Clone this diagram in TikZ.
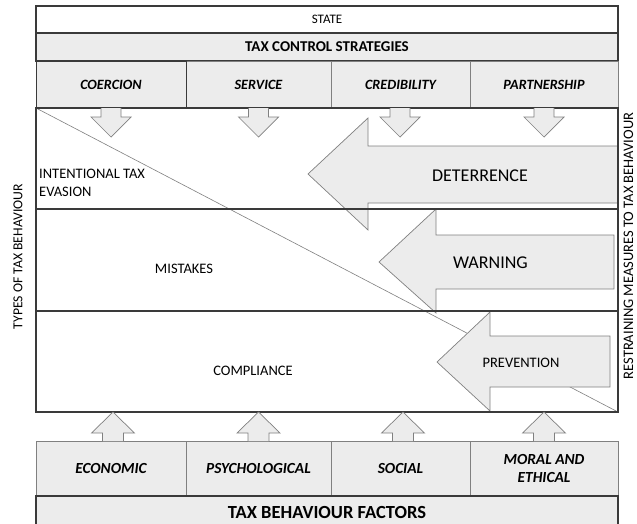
\documentclass[tikz,border=0pt]{standalone}
\usepackage{fontspec}
\setmainfont{Carlito}
\definecolor{boxgray}{HTML}{ECECEC}
\definecolor{edgegray}{HTML}{808080}
\definecolor{framecol}{HTML}{3A3A3A}
\begin{document}
\begin{tikzpicture}[x=1pt,y=-1pt,
  framed/.style={draw=framecol, line width=1.2pt},
  cell/.style={draw=edgegray, line width=0.7pt, fill=boxgray, inner sep=0pt, outer sep=0pt},
  blockarrow/.style={draw=edgegray, line width=0.7pt, fill=boxgray, line join=miter},
  plain/.style={inner sep=0pt, font=\fontsize{14.5}{18}\selectfont},
  bigword/.style={inner sep=0pt, font=\fontsize{18}{21}\selectfont},
  strat/.style={cell, font=\bfseries\itshape\fontsize{14.2}{17}\selectfont},
  factor/.style={cell, font=\bfseries\itshape\fontsize{15.4}{18.5}\selectfont, align=center},
  sidelabel/.style={inner sep=0pt, rotate=90},
  downarr/.pic={
    \fill[boxgray] (-10,0) -- (-10,9) -- (-20,9) -- (0,29) -- (20,9) -- (10,9) -- (10,0) -- cycle;
    \draw[edgegray, line width=0.7pt, line join=miter] (-10,0) -- (-10,9) -- (-20,9) -- (0,29) -- (20,9) -- (10,9) -- (10,0);
  },
  uparr/.pic={
    \fill[boxgray] (-10.5,0) -- (-10.5,-8) -- (-21.5,-8) -- (0,-29) -- (21.5,-8) -- (10.5,-8) -- (10.5,0) -- cycle;
    \draw[edgegray, line width=0.7pt, line join=miter] (-10.5,0) -- (-10.5,-8) -- (-21.5,-8) -- (0,-29) -- (21.5,-8) -- (10.5,-8) -- (10.5,0);
  }
]
\useasboundingbox (0,0) rectangle (637,523);
\fill[white] (0,0) rectangle (637,523);

% ---- top: state and strategies ----
\node[framed, fill=white, minimum width=582pt, minimum height=27pt, inner sep=0pt,
      font=\fontsize{13}{15}\selectfont] (state) at (327,19.5) {STATE};
\node[framed, fill=boxgray, minimum width=582pt, minimum height=28pt, inner sep=0pt,
      font=\bfseries\fontsize{15}{18}\selectfont] (tcs) at (327,47) {TAX CONTROL STRATEGIES};

\node[strat, minimum width=145pt, minimum height=47pt] (service) at (258.5,84.5) {SERVICE};
\node[strat, minimum width=139pt, minimum height=47pt] (credibility) at (400.5,84.5) {CREDIBILITY};
\node[strat, minimum width=148pt, minimum height=47pt] (partnership) at (544,84.5) {PARTNERSHIP};
\node[strat, draw=framecol, line width=1pt, minimum width=150pt, minimum height=47pt] (coercion) at (111,84.5) {COERCION};

% ---- middle region: types of behaviour ----
\coordinate (regionNW) at (36,108);
\coordinate (regionSE) at (618,412);
\draw[edgegray, line width=0.6pt] (regionNW) -- (regionSE);

% restraining measures
\filldraw[blockarrow] (618,146) -- (368,146) -- (368,118) -- (308,174) -- (368,230) -- (368,203) -- (618,203) -- cycle;
\filldraw[blockarrow] (614,235) -- (436,235) -- (436,209) -- (379,262) -- (436,313) -- (436,289) -- (614,289) -- cycle;
\filldraw[blockarrow] (610,336) -- (490,336) -- (490,312) -- (437,362) -- (490,411) -- (490,387) -- (610,387) -- cycle;
\node[bigword] (deterrence) at (480,175.5) {DETERRENCE};
\node[bigword] (warning) at (490.5,262.5) {WARNING};
\node[plain] (prevention) at (521,363) {PREVENTION};

% row dividers and frame
\draw[framecol, line width=1.2pt] (36,209) -- (618,209);
\draw[framecol, line width=1.2pt] (36,311) -- (618,311);
\draw[framecol, line width=1.2pt] (regionNW) rectangle (regionSE);

\node[plain, anchor=west, align=left] (intentional) at (39,183) {INTENTIONAL TAX\\EVASION};
\node[plain] (mistakes) at (184,269) {MISTAKES};
\node[plain] (compliance) at (253,371) {COMPLIANCE};

% strategy arrows into the region
\pic at (coercion.south) {downarr};
\pic at (service.south) {downarr};
\pic at ([xshift=-0.5pt]credibility.south) {downarr};
\pic at (partnership.south) {downarr};

% ---- bottom: behaviour factors ----
\node[factor, minimum width=150pt, minimum height=55pt] (economic) at (111,468.5) {ECONOMIC};
\node[factor, minimum width=145pt, minimum height=55pt] (psychological) at (258.5,468.5) {PSYCHOLOGICAL};
\node[factor, minimum width=139pt, minimum height=55pt] (social) at (400.5,468.5) {SOCIAL};
\node[factor, minimum width=148pt, minimum height=55pt] (moral) at (544,468.5) {MORAL AND\\ETHICAL};

\pic at ([xshift=2pt]economic.north) {uparr};
\pic at (psychological.north) {uparr};
\pic at ([xshift=2.5pt]social.north) {uparr};
\pic at (moral.north) {uparr};

\node[framed, fill=boxgray, minimum width=582pt, minimum height=34pt, inner sep=0pt] (tbfbox) at (327,513) {};
\node[inner sep=0pt, font=\bfseries\fontsize{18.5}{21}\selectfont] (tbf) at (327,512) {TAX BEHAVIOUR FACTORS};

% ---- side captions ----
\node[sidelabel, font=\fontsize{13.7}{16}\selectfont] (types) at (18,256.5) {TYPES OF TAX BEHAVIOUR};
\node[sidelabel, font=\fontsize{14.5}{17}\selectfont] (measures) at (628.5,246) {RESTRAINING MEASURES TO TAX BEHAVIOUR};
\end{tikzpicture}
\end{document}
